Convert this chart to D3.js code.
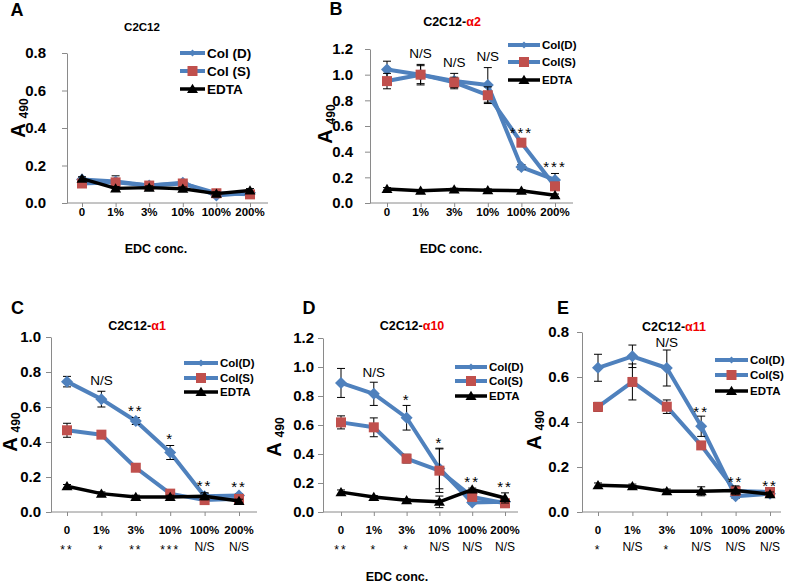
<!DOCTYPE html>
<html><head><meta charset="utf-8">
<script src="https://cdn.jsdelivr.net/npm/d3@7"></script>
<style>body{margin:0;background:#fff}svg{display:block}</style>
</head><body>
<svg id="chart" width="787" height="585"></svg>
<script>
// ---------------- data ----------------
const categories = ["0", "1%", "3%", "10%", "100%", "200%"];

// Panel A  (C2C12)
const aColD    = [0.125, 0.115, 0.093, 0.108, 0.040, 0.055];
const aColDErr = [0.010, 0.030, 0.010, 0.010, 0.010, 0.010];
const aColS    = [0.104, 0.110, 0.093, 0.104, 0.052, 0.046];
const aColSErr = [0.010, 0.010, 0.010, 0.010, 0.010, 0.010];
const aEDTA    = [0.130, 0.078, 0.082, 0.076, 0.050, 0.067];
const aEDTAErr = [0.010, 0.010, 0.010, 0.010, 0.010, 0.010];

// Panel B  (C2C12-α2)
const bColD    = [1.040, 1.000, 0.950, 0.920, 0.280, 0.180];
const bColDErr = [0.065, 0.070, 0.060, 0.135, 0.020, 0.050];
const bColS    = [0.950, 1.000, 0.940, 0.840, 0.470, 0.130];
const bColSErr = [0.060, 0.080, 0.040, 0.065, 0.020, 0.030];
const bEDTA    = [0.110, 0.095, 0.105, 0.100, 0.095, 0.060];
const bEDTAErr = [0.010, 0.010, 0.010, 0.010, 0.010, 0.010];
const bAnnot   = ["", "N/S", "N/S", "N/S", "***", "***"];

// Panel C  (C2C12-α1)
const cColD    = [0.745, 0.645, 0.520, 0.340, 0.090, 0.095];
const cColDErr = [0.030, 0.045, 0.020, 0.040, 0.015, 0.010];
const cColS    = [0.467, 0.442, 0.253, 0.105, 0.068, 0.075];
const cColSErr = [0.040, 0.010, 0.010, 0.010, 0.010, 0.010];
const cEDTA    = [0.147, 0.105, 0.086, 0.086, 0.090, 0.063];
const cEDTAErr = [0.010, 0.010, 0.010, 0.010, 0.020, 0.010];
const cAnnot   = ["", "N/S", "**", "*", "**", "**"];
const cSig     = ["**", "*", "**", "***", "N/S", "N/S"];

// Panel D  (C2C12-α10)
const dColD    = [0.890, 0.815, 0.650, 0.300, 0.065, 0.070];
const dColDErr = [0.100, 0.080, 0.085, 0.140, 0.010, 0.010];
const dColS    = [0.618, 0.584, 0.368, 0.285, 0.104, 0.060];
const dColSErr = [0.045, 0.065, 0.030, 0.150, 0.020, 0.010];
const dEDTA    = [0.137, 0.104, 0.081, 0.070, 0.155, 0.097];
const dEDTAErr = [0.015, 0.010, 0.010, 0.040, 0.010, 0.035];
const dAnnot   = ["", "N/S", "*", "*", "**", "**"];
const dSig     = ["**", "*", "*", "N/S", "N/S", "N/S"];

// Panel E  (C2C12-α11)
const eColD    = [0.641, 0.692, 0.640, 0.381, 0.070, 0.081];
const eColDErr = [0.060, 0.050, 0.080, 0.045, 0.010, 0.010];
const eColS    = [0.467, 0.578, 0.468, 0.296, 0.093, 0.089];
const eColSErr = [0.020, 0.080, 0.030, 0.010, 0.010, 0.010];
const eEDTA    = [0.119, 0.114, 0.092, 0.092, 0.096, 0.079];
const eEDTAErr = [0.010, 0.010, 0.010, 0.020, 0.020, 0.010];
const eAnnot   = ["", "", "N/S", "**", "**", "**"];
const eSig     = ["*", "N/S", "*", "N/S", "N/S", "N/S"];

const xTitleText = "EDC conc.";

// ---------------- drawing ----------------
const FONT = "'Liberation Sans', Arial, sans-serif";
const BLUE = "#4F81BD", RED = "#C0504D", BLACK = "#000", RED_TXT = "#f00000", AXIS = "#8a8a8a";
const svg = d3.select("#chart");

const shapes = {
  diamond: r => `M0,${-r}L${r},0L0,${r}L${-r},0Z`,
  square:  r => `M${-r},${-r}H${r}V${r}H${-r}Z`,
  triangle: r => `M0,${-r*1.05}L${r*1.1},${r*0.8}L${-r*1.1},${r*0.8}Z`
};

function mkSeries(names, D, DE, S, SE, E, EE) {
  return [
    {name: names[0], vals: D, err: DE, line: BLUE, fill: BLUE, shape: "diamond", r: 6, lr: 3.5, lw: 4},
    {name: names[1], vals: S, err: SE, line: BLUE, fill: RED, shape: "square", r: 5, lr: 5, lw: 4},
    {name: names[2], vals: E, err: EE, line: BLACK, fill: BLACK, shape: "triangle", r: 5, lr: 5, lw: 3.5}
  ];
}

const panels = [
  {letter: "A", lx: 17, ly: 9, title: "C2C12", red: "", tx: 142, ty: 27, tsize: 11.5,
   series: mkSeries(["Col (D)", "Col (S)", "EDTA"], aColD, aColDErr, aColS, aColSErr, aEDTA, aEDTAErr),
   ymax: 0.8, yTop: 53, yBot: 203, axL: 67, axR: 268, x0: 82, x1: 250, gap: 16,
   ylx: 25, yly: 118, legX: 180, legW: 25, legSize: 13.5, legRows: [53, 71, 89],
   xlabY: 212, annot: null, annOff: 10, xTitle: [156, 248], sig: null},
  {letter: "B", lx: 336, ly: 8, title: "C2C12-", red: "α2", tx: 452, ty: 21, tsize: 12.5,
   series: mkSeries(["Col(D)", "Col(S)", "EDTA"], bColD, bColDErr, bColS, bColSErr, bEDTA, bEDTAErr),
   ymax: 1.2, yTop: 49, yBot: 203, axL: 370, axR: 573, x0: 387, x1: 555, gap: 12,
   ylx: 332, yly: 124, legX: 508, legW: 32, legSize: 11.5, legRows: [45, 62, 80],
   xlabY: 212, annot: bAnnot, annOff: 11, xTitle: [451, 248], sig: null},
  {letter: "C", lx: 17.5, ly: 307, title: "C2C12-", red: "α1", tx: 137, ty: 325, tsize: 12.5,
   series: mkSeries(["Col(D)", "Col(S)", "EDTA"], cColD, cColDErr, cColS, cColSErr, cEDTA, cEDTAErr),
   ymax: 1.0, yTop: 337, yBot: 512, axL: 51, axR: 257, x0: 67, x1: 239, gap: 5,
   ylx: 17, yly: 432, legX: 184, legW: 34, legSize: 11.5, legRows: [363, 378, 392],
   xlabY: 530, annot: cAnnot, annOff: 11, xTitle: null, sig: cSig},
  {letter: "D", lx: 309, ly: 307, title: "C2C12-", red: "α10", tx: 412, ty: 325, tsize: 12.5,
   series: mkSeries(["Col(D)", "Col(S)", "EDTA"], dColD, dColDErr, dColS, dColSErr, dEDTA, dEDTAErr),
   ymax: 1.2, yTop: 338, yBot: 512, axL: 323, axR: 518, x0: 341, x1: 505, gap: 4,
   ylx: 281, yly: 437, legX: 455, legW: 32, legSize: 11.5, legRows: [367, 381, 396],
   xlabY: 530, annot: dAnnot, annOff: 10, xTitle: null, sig: dSig},
  {letter: "E", lx: 563, ly: 307, title: "C2C12-", red: "α11", tx: 674, ty: 326, tsize: 12.5,
   series: mkSeries(["Col(D)", "Col(S)", "EDTA"], eColD, eColDErr, eColS, eColSErr, eEDTA, eEDTAErr),
   ymax: 0.8, yTop: 332, yBot: 512, axL: 582, axR: 781, x0: 598, x1: 770, gap: 8,
   ylx: 541, yly: 430, legX: 715, legW: 33, legSize: 11.5, legRows: [360, 375, 391],
   xlabY: 530, annot: eAnnot, annOff: 8, xTitle: null, sig: eSig}
];

function starAwareText(g, x, yc, txt, size, weight) {
  const isStar = txt.indexOf("*") >= 0;
  const base = isStar ? yc + 0.62 * size : yc + 0.36 * size;
  g.append("text").attr("x", x).attr("y", base)
    .attr("text-anchor", "middle")
    .attr("font-family", FONT).attr("font-size", size).attr("font-weight", weight)
    .attr("letter-spacing", isStar ? 2 : 0)
    .text(txt);
}

panels.forEach(p => {
  const g = svg.append("g");
  const x = d3.scalePoint().domain(categories).range([p.x0, p.x1]);
  const y = d3.scaleLinear().domain([0, p.ymax]).range([p.yBot, p.yTop]);

  // panel letter
  g.append("text").attr("x", p.lx).attr("y", p.ly + 6.5).attr("text-anchor", "middle")
    .attr("font-family", FONT).attr("font-weight", "bold").attr("font-size", 18).text(p.letter);

  // title
  const t = g.append("text").attr("x", p.tx).attr("y", p.ty + p.tsize * 0.36).attr("text-anchor", "middle")
    .attr("font-family", FONT).attr("font-weight", "bold").attr("font-size", p.tsize);
  t.append("tspan").text(p.title);
  if (p.red) t.append("tspan").attr("fill", RED_TXT).text(p.red);

  // y axis
  const ticks = d3.range(0, p.ymax + 1e-9, 0.2);
  const yAxis = d3.axisLeft(y).tickValues(ticks).tickFormat(d3.format(".1f")).tickSizeOuter(0).tickSizeInner(5).tickPadding(p.gap);
  const ya = g.append("g").attr("transform", `translate(${p.axL},0)`).call(yAxis);
  ya.select(".domain").attr("stroke", AXIS);
  ya.selectAll(".tick line").attr("stroke", AXIS);
  ya.selectAll("text").attr("font-family", FONT).attr("font-weight", "bold").attr("font-size", 15).attr("fill", "#000");

  // x axis
  const xAxis = d3.axisBottom(x).tickSizeOuter(0).tickSizeInner(4).tickFormat(d => d);
  const xa = g.append("g").attr("transform", `translate(0,${p.yBot})`).call(xAxis);
  xa.select(".domain").remove();
  xa.selectAll(".tick line").attr("stroke", AXIS);
  xa.selectAll("text").remove();
  g.append("line").attr("x1", p.axL).attr("x2", p.axR).attr("y1", p.yBot).attr("y2", p.yBot).attr("stroke", AXIS);
  g.selectAll(null).data(categories).enter().append("text")
    .attr("x", d => x(d)).attr("y", p.xlabY + 4).attr("text-anchor", "middle")
    .attr("font-family", FONT).attr("font-weight", "bold").attr("font-size", 11.5).text(d => d);

  // y label  A 490
  const yl = g.append("text").attr("transform", `translate(${p.ylx},${p.yly}) rotate(-90)`)
    .attr("text-anchor", "middle").attr("font-family", FONT).attr("font-weight", "bold");
  yl.append("tspan").attr("font-size", 20).text("A ");
  yl.append("tspan").attr("font-size", 12).attr("dy", 3).text("490");

  // series
  p.series.forEach(s => {
    const pts = categories.map((c, i) => ({c, v: s.vals[i], e: s.err[i]}));
    const line = d3.line().x(d => x(d.c)).y(d => y(d.v));
    g.append("path").datum(pts).attr("d", line).attr("fill", "none")
      .attr("stroke", s.line).attr("stroke-width", s.lw).attr("stroke-linejoin", "round");
    const eb = g.append("g").attr("stroke", "#000").attr("stroke-width", 1);
    pts.filter(d => d.e > 0).forEach(d => {
      const cx = x(d.c), yt = y(d.v + d.e), yb = y(Math.max(0, d.v - d.e));
      eb.append("line").attr("x1", cx).attr("x2", cx).attr("y1", yt).attr("y2", yb);
      eb.append("line").attr("x1", cx - 4).attr("x2", cx + 4).attr("y1", yt).attr("y2", yt);
      eb.append("line").attr("x1", cx - 4).attr("x2", cx + 4).attr("y1", yb).attr("y2", yb);
    });
    g.selectAll(null).data(pts).enter().append("path")
      .attr("transform", d => `translate(${x(d.c)},${y(d.v)})`)
      .attr("d", shapes[s.shape](s.r)).attr("fill", s.fill);
  });

  // legend
  p.series.forEach((s, i) => {
    const ly = p.legRows[i];
    g.append("line").attr("x1", p.legX).attr("x2", p.legX + p.legW).attr("y1", ly).attr("y2", ly)
      .attr("stroke", s.line).attr("stroke-width", s.lw);
    g.append("path").attr("transform", `translate(${p.legX + p.legW / 2},${ly})`)
      .attr("d", shapes[s.shape](s.lr)).attr("fill", s.fill);
    g.append("text").attr("x", p.legX + p.legW + 2).attr("y", ly + p.legSize * 0.36)
      .attr("font-family", FONT).attr("font-weight", "bold").attr("font-size", p.legSize).text(s.name);
  });

  // annotations above points
  if (p.annot) {
    p.annot.forEach((a, i) => {
      if (!a) return;
      const top = d3.max(p.series, s => s.vals[i] + s.err[i]);
      starAwareText(g, x(categories[i]), y(top) - p.annOff, a, a.indexOf("*") >= 0 ? 15 : 13.5, "normal");
    });
  }

  // significance row under axis
  if (p.sig) {
    p.sig.forEach((a, i) => starAwareText(g, x(categories[i]), 547, a, 12, "normal"));
  }

  // x title
  if (p.xTitle) {
    g.append("text").attr("x", p.xTitle[0]).attr("y", p.xTitle[1] + 4.5).attr("text-anchor", "middle")
      .attr("font-family", FONT).attr("font-weight", "bold").attr("font-size", 12.5).text(xTitleText);
  }
});

svg.append("text").attr("x", 397).attr("y", 581).attr("text-anchor", "middle")
  .attr("font-family", FONT).attr("font-weight", "bold").attr("font-size", 12.5).text(xTitleText);
</script>
</body></html>
